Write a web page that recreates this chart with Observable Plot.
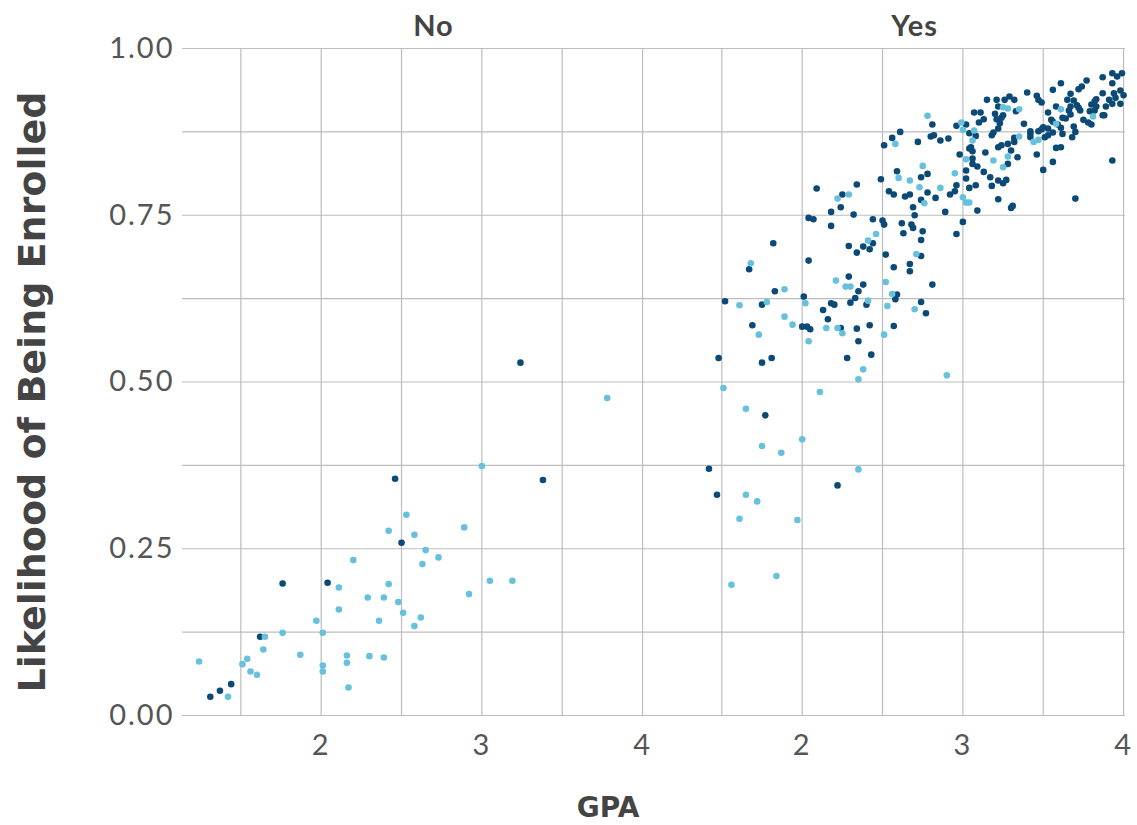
<!DOCTYPE html>
<html><head><meta charset="utf-8">
<script src="https://cdn.jsdelivr.net/npm/d3@7"></script>
<script src="https://cdn.jsdelivr.net/npm/@observablehq/plot@0.6"></script>
<style>
body{margin:0;background:#fff;}
svg text{font-family:"Lato","DejaVu Sans",sans-serif;}
g[aria-label="y-axis tick label"] text, g[aria-label="x-axis tick label"] text{font-size:29px;fill:#555;letter-spacing:2px;}
g[aria-label="fx-axis tick label"] text{font-size:29px;font-weight:bold;fill:#444;letter-spacing:1px;}
g[aria-label="y-axis label"]{translate:0px 10px;}
g[aria-label="y-axis label"] text{font-family:"DejaVu Sans",sans-serif;font-size:38px;font-weight:bold;fill:#444;}
g[aria-label="text"] text{font-family:"DejaVu Sans",sans-serif;font-size:28px;font-weight:bold;fill:#444;}
</style></head><body><div id="chart"></div>
<script>
const panels = ["No", "Yes"];
const groups = ["dark", "light"];
const xTicks = [2, 3, 4];
const xGrid = [1.5, 2, 2.5, 3, 3.5, 4];
const yTicks = [0, 0.25, 0.5, 0.75, 1];
const yGrid = [0, 0.125, 0.25, 0.375, 0.5, 0.625, 0.75, 0.875, 1];
const xTitle = ["GPA"];

// [GPA, likelihood]
const noDark = [[1.31,0.028],[1.37,0.037],[1.44,0.047],[1.62,0.118],[1.76,0.198],[2.04,0.199],[2.46,0.355],[2.50,0.259],[3.24,0.529],[3.38,0.353]];
const noLight = [[1.24,0.081],[1.42,0.028],[1.51,0.077],[1.54,0.085],[1.56,0.066],[1.60,0.061],[1.65,0.118],[1.64,0.099],[1.76,0.124],[1.87,0.091],[1.97,0.142],[2.01,0.124],[2.01,0.075],[2.01,0.066],[2.11,0.192],[2.11,0.159],[2.16,0.090],[2.16,0.079],[2.17,0.042],[2.20,0.233],[2.29,0.177],[2.30,0.089],[2.36,0.142],[2.39,0.087],[2.39,0.177],[2.42,0.197],[2.42,0.277],[2.48,0.170],[2.51,0.154],[2.53,0.301],[2.58,0.271],[2.65,0.248],[2.63,0.227],[2.62,0.147],[2.58,0.134],[2.73,0.237],[3.00,0.374],[2.89,0.282],[2.92,0.182],[3.05,0.202],[3.19,0.202],[3.78,0.476]];
const yesDark = [[2.38,0.646],[2.81,0.646],[1.83,0.636],[1.52,0.621],[1.75,0.616],[2.01,0.628],[2.35,0.636],[2.33,0.626],[2.30,0.619],[2.40,0.616],[2.59,0.631],[2.58,0.624],[2.74,0.620],[2.77,0.603],[2.13,0.608],[2.18,0.618],[2.20,0.616],[2.16,0.594],[1.69,0.585],[2.00,0.583],[2.03,0.583],[2.05,0.579],[2.24,0.581],[2.34,0.580],[2.42,0.585],[2.35,0.561],[2.57,0.584],[1.48,0.536],[1.75,0.529],[1.81,0.536],[2.28,0.536],[2.43,0.541],[1.77,0.450],[1.42,0.370],[1.47,0.331],[2.22,0.345],
[1.67,0.669],[1.82,0.708],[2.04,0.682],[2.09,0.790],[2.04,0.746],[2.07,0.744],[2.18,0.755],[2.18,0.734],[2.25,0.781],[2.24,0.762],[2.32,0.751],[2.34,0.796],[2.29,0.704],[2.34,0.694],[2.38,0.703],[2.44,0.708],[2.42,0.699],[2.44,0.744],[2.50,0.742],[2.51,0.736],[2.49,0.804],[2.51,0.855],[2.54,0.786],[2.57,0.781],[2.56,0.866],[2.61,0.875],[2.59,0.816],[2.52,0.691],[2.29,0.658],[2.57,0.672],[2.62,0.738],[2.64,0.778],[2.63,0.723],[2.68,0.736],[2.69,0.731],[2.67,0.781],[2.69,0.762],[2.70,0.750],[2.74,0.807],[2.78,0.812],[2.74,0.773],[2.78,0.784],[2.83,0.776],[2.75,0.726],[2.74,0.713],[2.74,0.689],[2.67,0.677],[2.67,0.666],[2.92,0.781],[2.95,0.786],[2.96,0.795],[2.89,0.755],[3.00,0.740],[2.96,0.722],[2.72,0.860],[2.80,0.868],[2.82,0.870],[2.86,0.862],[2.91,0.865],[2.81,0.886],[2.96,0.884],[3.02,0.886],[3.04,0.873],[3.08,0.869],[3.05,0.852],[3.06,0.846],[3.04,0.850],[2.98,0.841],[3.06,0.835],[3.06,0.827],[3.02,0.817],[3.02,0.805],[3.08,0.795],[3.04,0.791],[3.09,0.757],[3.07,0.904],[3.11,0.904],[3.13,0.894],[3.10,0.889],[3.15,0.923],[3.21,0.923],[3.22,0.913],[3.26,0.923],[3.29,0.928],[3.32,0.923],[3.33,0.906],[3.20,0.902],[3.25,0.900],[3.24,0.896],[3.21,0.894],[3.40,0.934],[3.46,0.929],[3.47,0.923],[3.49,0.919],[3.56,0.938],[3.61,0.948],[3.67,0.932],[3.72,0.939],[3.74,0.943],[3.77,0.952],[3.87,0.957],[3.93,0.963],[3.96,0.958],[3.99,0.963],[3.93,0.948],[3.87,0.933],[3.94,0.933],[3.98,0.937],[4.00,0.930],[3.95,0.926],[3.91,0.923],[3.93,0.917],[3.98,0.917],[3.83,0.924],[3.82,0.921],[3.80,0.916],[3.83,0.913],[3.89,0.913],[3.79,0.906],[3.82,0.907],[3.87,0.900],[3.88,0.900],[3.75,0.893],[3.78,0.889],[3.80,0.886],[3.72,0.911],[3.67,0.913],[3.66,0.907],[3.69,0.922],[3.65,0.923],[3.71,0.915],[3.73,0.907],[3.58,0.913],[3.62,0.896],[3.64,0.895],[3.67,0.901],[3.53,0.904],[3.55,0.893],[3.56,0.890],[3.59,0.886],[3.61,0.881],[3.53,0.880],[3.50,0.882],[3.49,0.879],[3.42,0.876],[3.38,0.887],[3.42,0.872],[3.47,0.876],[3.51,0.867],[3.53,0.870],[3.56,0.874],[3.62,0.872],[3.68,0.867],[3.70,0.875],[3.69,0.883],[3.32,0.866],[3.32,0.860],[3.42,0.867],[3.58,0.851],[3.61,0.852],[3.46,0.841],[3.56,0.830],[3.50,0.818],[3.34,0.837],[3.28,0.857],[3.30,0.847],[3.28,0.827],[3.24,0.855],[3.22,0.852],[3.19,0.874],[3.18,0.870],[3.22,0.880],[3.70,0.775],[3.93,0.832],[3.31,0.764],[3.30,0.761],[3.22,0.774],[3.18,0.794],[3.25,0.798],[3.27,0.803],[3.17,0.807],[3.22,0.802],[3.14,0.844],[3.13,0.815],[3.09,0.823],[3.23,0.888]];
const yesLight = [[2.21,0.652],[2.27,0.643],[2.30,0.643],[2.52,0.650],[1.89,0.639],[1.61,0.615],[1.78,0.620],[2.02,0.618],[2.41,0.622],[2.56,0.632],[2.53,0.614],[2.70,0.609],[1.89,0.598],[1.94,0.586],[1.73,0.571],[2.04,0.561],[2.15,0.581],[2.22,0.581],[2.25,0.573],[2.51,0.571],[2.38,0.519],[2.35,0.504],[2.90,0.510],[1.51,0.491],[2.11,0.485],[1.65,0.460],[1.75,0.404],[1.87,0.394],[2.00,0.414],[1.65,0.331],[1.72,0.321],[1.61,0.295],[1.97,0.293],[2.35,0.369],[1.84,0.209],[1.56,0.196],
[1.68,0.678],[2.22,0.775],[2.29,0.781],[2.41,0.712],[2.46,0.722],[2.58,0.857],[2.60,0.806],[2.67,0.802],[2.73,0.792],[2.75,0.824],[2.76,0.768],[2.71,0.692],[2.86,0.791],[2.95,0.813],[2.78,0.899],[2.99,0.889],[3.00,0.878],[3.07,0.877],[3.06,0.862],[3.02,0.834],[3.00,0.777],[3.02,0.769],[3.04,0.769],[3.25,0.912],[3.28,0.910],[3.35,0.909],[3.81,0.898],[3.61,0.909],[3.58,0.887],[3.35,0.868],[3.44,0.860],[3.47,0.863],[3.28,0.838],[3.25,0.822],[3.19,0.832]];

const rows = [
  ...noDark.map(([gpa, lik]) => ({panel: "No", group: "dark", gpa, lik})),
  ...noLight.map(([gpa, lik]) => ({panel: "No", group: "light", gpa, lik})),
  ...yesDark.map(([gpa, lik]) => ({panel: "Yes", group: "dark", gpa, lik})),
  ...yesLight.map(([gpa, lik]) => ({panel: "Yes", group: "light", gpa, lik}))
];

const gridStyle = {stroke: "#bdbdbd", strokeWidth: 1.2};
const chart = Plot.plot({
  width: 1137, height: 825,
  marginTop: 48, marginBottom: 110, marginLeft: 181, marginRight: 11,
  style: {background: "#fff", overflow: "visible"},
  fx: {domain: panels, paddingInner: 0.0394, paddingOuter: 0, label: null},
  x: {domain: [1.137, 4.012]},
  y: {domain: [0, 1]},
  color: {domain: groups, range: ["#0b4a77", "#67c1dc"]},
  marks: [
    // left panel's horizontal grid continues through the gap between panels
    Plot.ruleY(yGrid, {y: d => d, fx: () => panels[0], insetRight: -19, ...gridStyle}),
    Plot.ruleY(yGrid, {y: d => d, fx: () => panels[1], ...gridStyle}),
    Plot.ruleX(xGrid, {x: d => d, ...gridStyle}),
    Plot.axisFx({anchor: "top", tickSize: 0, tickPadding: 13, dx: 20, label: null}),
    Plot.axisX({ticks: xTicks, tickSize: 0, tickPadding: 19, tickFormat: d => String(d), label: null}),
    Plot.axisY({ticks: yTicks, tickSize: 0, tickPadding: 8, tickFormat: d3.format(".2f"), label: "Likelihood of Being Enrolled", labelAnchor: "center", labelOffset: 164, labelArrow: false}),
    Plot.dot(rows, {x: "gpa", y: "lik", fx: "panel", fill: "group", r: 3.3}),
    Plot.text(xTitle, {text: d => d, frameAnchor: "bottom", facet: "super", dx: -46, dy: 101})
  ]
});
document.getElementById("chart").appendChild(chart);
</script></body></html>
